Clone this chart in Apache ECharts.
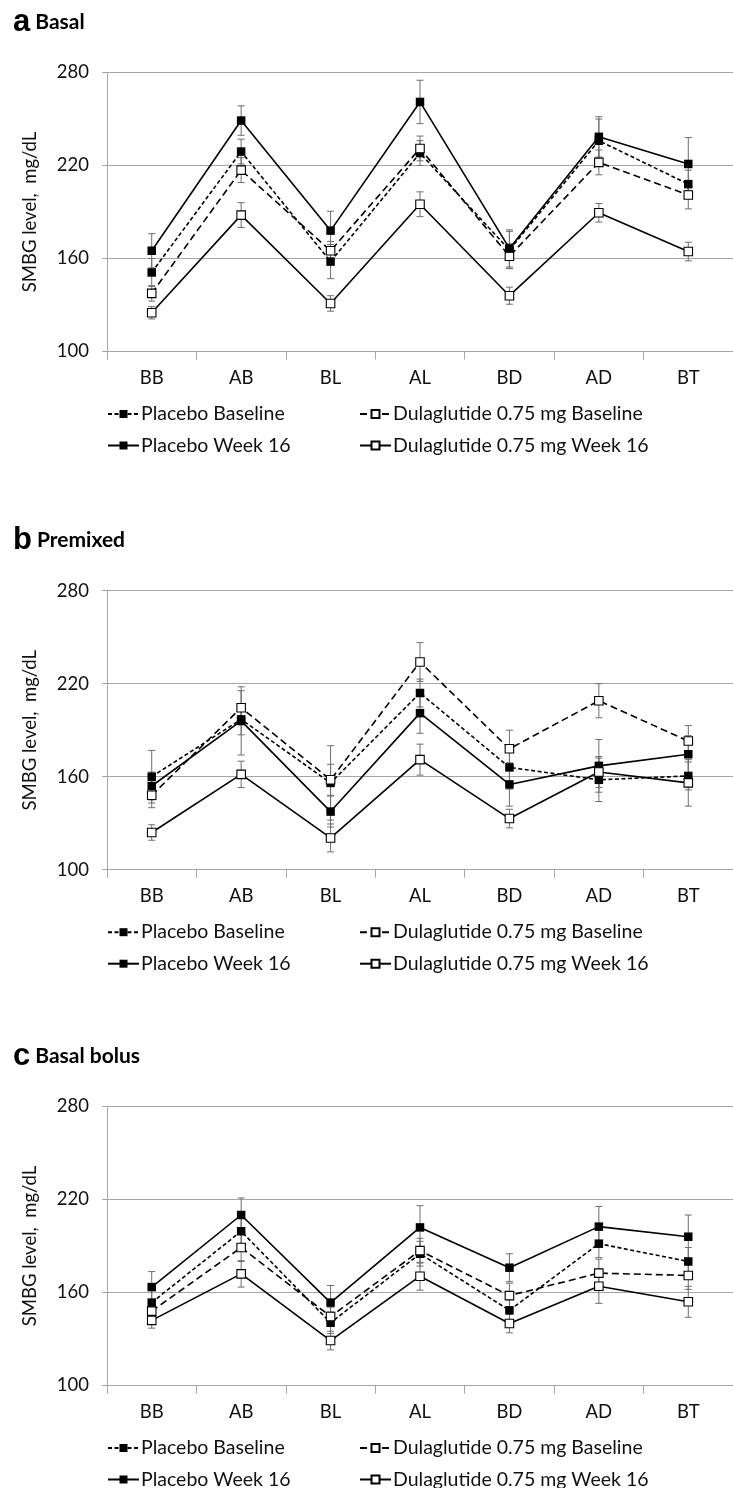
<!DOCTYPE html>
<html>
<head>
<meta charset="utf-8">
<script src="https://cdn.jsdelivr.net/npm/echarts@6/dist/echarts.min.js"></script>
<style>
html,body{margin:0;padding:0;background:#fff;}
#chart{width:733px;height:1488px;}
</style>
</head>
<body>
<div id="chart"></div>
<script>
// ---- data ----
var categories = ['BB', 'AB', 'BL', 'AL', 'BD', 'AD', 'BT'];
var seriesNames = ['Placebo Baseline', 'Dulaglutide 0.75 mg Baseline', 'Placebo Week 16', 'Dulaglutide 0.75 mg Week 16'];
var yTicks = [100, 160, 220, 280];
var panelLetters = ['a', 'b', 'c'];
var panelTitles = ['Basal', 'Premixed', 'Basal bolus'];
var yAxisName = 'SMBG level,  mg/dL';

// Panel a: Basal
var basalPlaceboBaseline = [151, 229, 158, 228, 165.5, 236, 208];
var basalDulaBaseline    = [137.5, 217, 165, 231, 161.5, 222, 201];
var basalPlaceboWk16     = [165, 249, 178, 261, 166.5, 238.5, 221];
var basalDulaWk16        = [125, 188, 131, 195, 136, 189.5, 164.5];
var basalPlaceboBaselineErr = [9, 8, 11, 8, 12, 14, 9];
var basalDulaBaselineErr    = [5, 8, 6, 8, 8, 8, 9];
var basalPlaceboWk16Err     = [11, 9.5, 12.5, 14, 12, 13, 17];
var basalDulaWk16Err        = [4, 8, 5, 8, 5.5, 6, 6];

// Panel b: Premixed
var premixPlaceboBaseline = [160, 197, 156, 214, 166, 158, 160.5];
var premixDulaBaseline    = [148, 204.5, 158, 234, 178, 209, 183];
var premixPlaceboWk16     = [154, 196, 137.5, 201, 155, 167, 174.5];
var premixDulaWk16        = [124, 161.5, 120.5, 171, 133, 163, 156];
var premixPlaceboBaselineErr = [17, 10, 24, 9, 14, 14, 9];
var premixDulaBaselineErr    = [8, 11, 10, 12.5, 12, 11, 10];
var premixPlaceboWk16Err     = [9, 22, 10, 13, 14, 17, 12];
var premixDulaWk16Err        = [5, 8.5, 9, 10, 6, 10, 15];

// Panel c: Basal bolus
var bolusPlaceboBaseline = [153.5, 199.5, 140.5, 185, 148.5, 191.5, 180];
var bolusDulaBaseline    = [148, 189, 144.5, 187, 158, 172.5, 171];
var bolusPlaceboWk16     = [163.5, 210, 153.5, 202, 176, 202.5, 196];
var bolusDulaWk16        = [142, 172, 129, 170.5, 140, 164, 154];
var bolusPlaceboBaselineErr = [8, 9, 7, 8, 8, 9, 9];
var bolusDulaBaselineErr    = [6, 9, 6, 8, 8, 9, 9];
var bolusPlaceboWk16Err     = [10, 11, 11, 14, 9, 13, 14];
var bolusDulaWk16Err        = [5, 8.5, 6, 9, 6, 11, 10];

var panelValues = [
  [basalPlaceboBaseline, basalDulaBaseline, basalPlaceboWk16, basalDulaWk16],
  [premixPlaceboBaseline, premixDulaBaseline, premixPlaceboWk16, premixDulaWk16],
  [bolusPlaceboBaseline, bolusDulaBaseline, bolusPlaceboWk16, bolusDulaWk16]
];
var panelErrors = [
  [basalPlaceboBaselineErr, basalDulaBaselineErr, basalPlaceboWk16Err, basalDulaWk16Err],
  [premixPlaceboBaselineErr, premixDulaBaselineErr, premixPlaceboWk16Err, premixDulaWk16Err],
  [bolusPlaceboBaselineErr, bolusDulaBaselineErr, bolusPlaceboWk16Err, bolusDulaWk16Err]
];

// ---- layout / style ----
var FONT = 'Lato';
var gridTops = [72.5, 590.7, 1106.5];
var gridHeight = 279;
var gridLeft = 107;
var gridWidth = 634;
var panelOffset = [0, 518.2, 1034];
var styles = [
  {dash: [4, 2.5], fill: '#000'},
  {dash: [7, 4], fill: '#fff'},
  {dash: 'solid', fill: '#000'},
  {dash: 'solid', fill: '#fff'}
];

var chart = echarts.init(document.getElementById('chart'), null, {renderer: 'canvas'});

var grids = [], xAxes = [], yAxes = [], series = [], titles = [], legends = [];
for (var p = 0; p < 3; p++) {
  grids.push({left: gridLeft, top: gridTops[p], width: gridWidth, height: gridHeight, containLabel: false});
  xAxes.push({
    type: 'category', gridIndex: p, data: categories, boundaryGap: true,
    axisLine: {lineStyle: {color: '#a6a6a6', width: 1}},
    axisTick: {show: true, length: 8, lineStyle: {color: '#a6a6a6'}},
    axisLabel: {color: '#111', fontFamily: FONT, fontSize: 18.5, margin: 17}
  });
  yAxes.push({
    type: 'value', gridIndex: p, min: yTicks[0], max: yTicks[yTicks.length - 1], interval: 60,
    name: yAxisName, nameLocation: 'middle', nameRotate: 90, nameGap: 67,
    nameTextStyle: {color: '#111', fontFamily: FONT, fontSize: 18.5},
    axisLine: {show: true, lineStyle: {color: '#a6a6a6', width: 1}},
    axisTick: {show: true, length: 5, lineStyle: {color: '#a6a6a6'}},
    splitLine: {show: true, lineStyle: {color: '#a6a6a6', width: 1}},
    axisLabel: {color: '#111', fontFamily: FONT, fontSize: 18.5, margin: 18}
  });
  titles.push({
    text: '{l|' + panelLetters[p] + '} {t|' + panelTitles[p] + '}',
    left: 8, top: 2 + panelOffset[p],
    textStyle: {
      rich: {
        l: {fontFamily: 'Liberation Sans', fontWeight: 'bold', fontSize: 31, color: '#000'},
        t: {fontFamily: FONT, fontWeight: 'bold', fontSize: 21, color: '#000'}
      }
    }
  });
  for (var s = 0; s < 4; s++) {
    var vals = panelValues[p][s], errs = panelErrors[p][s];
    var errData = vals.map(function (v, i) { return [i, v - errs[i], v + errs[i]]; });
    series.push({
      type: 'custom', name: seriesNames[s] + ' err', xAxisIndex: p, yAxisIndex: p, z: 1,
      silent: true,
      data: errData,
      renderItem: function (params, api) {
        var x = api.value(0);
        var lo = api.coord([x, api.value(1)]);
        var hi = api.coord([x, api.value(2)]);
        var hw = 3.5;
        var st = {stroke: '#6e6e6e', lineWidth: 1};
        return {
          type: 'group',
          children: [
            {type: 'line', shape: {x1: lo[0], y1: lo[1], x2: hi[0], y2: hi[1]}, style: st},
            {type: 'line', shape: {x1: lo[0] - hw, y1: lo[1], x2: lo[0] + hw, y2: lo[1]}, style: st},
            {type: 'line', shape: {x1: hi[0] - hw, y1: hi[1], x2: hi[0] + hw, y2: hi[1]}, style: st}
          ]
        };
      }
    });
    series.push({
      type: 'line', name: seriesNames[s], xAxisIndex: p, yAxisIndex: p, z: 3,
      data: vals,
      symbol: 'rect', symbolSize: 8.5, showSymbol: true,
      lineStyle: {color: '#000', width: 1.6, type: styles[s].dash},
      itemStyle: {color: styles[s].fill, borderColor: '#000', borderWidth: styles[s].fill === '#fff' ? 1.1 : 0},
      animation: false
    });
  }
  var legendPos = [[107, 0], [359, 0], [107, 1], [359, 1]];
  for (var k = 0; k < 4; k++) {
    legends.push({
      data: [seriesNames[k]],
      left: legendPos[k][0], top: 404 + panelOffset[p] + legendPos[k][1] * 31.5,
      orient: 'horizontal', padding: 0, itemWidth: 31, itemHeight: 10,
      selectedMode: false,
      textStyle: {color: '#111', fontFamily: FONT, fontSize: 19.5, padding: [0, 0, 0, -3]}
    });
  }
}

chart.setOption({
  animation: false,
  backgroundColor: '#fff',
  title: titles,
  grid: grids,
  xAxis: xAxes,
  yAxis: yAxes,
  legend: legends,
  series: series
});
</script>
</body>
</html>
